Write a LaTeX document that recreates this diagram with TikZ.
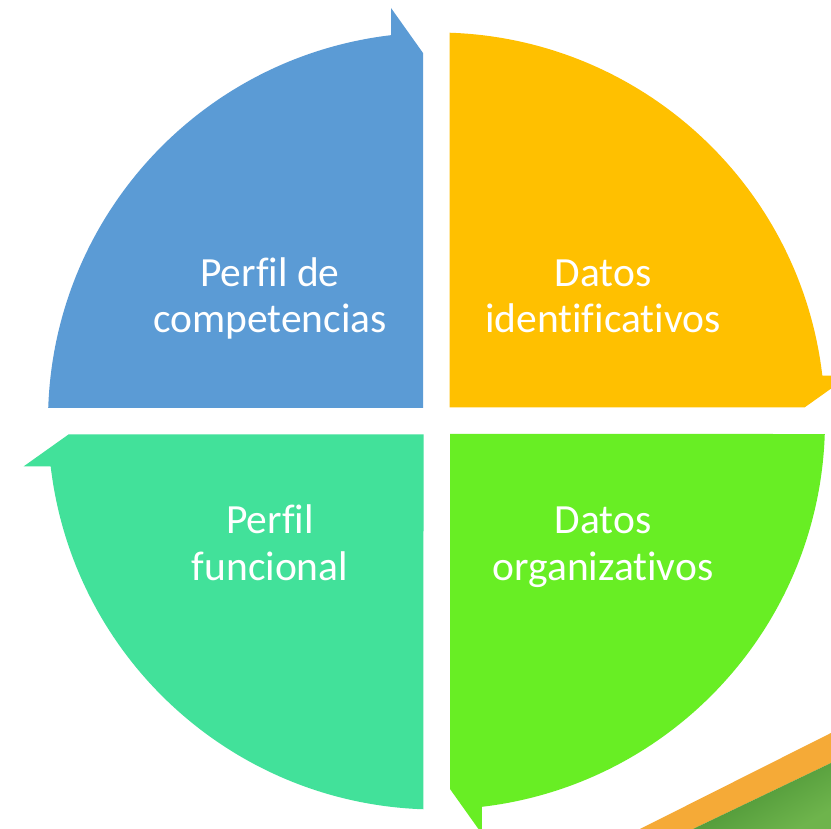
\documentclass[tikz,border=0pt]{standalone}
\usepackage{fontspec}
\setmainfont{Carlito}[Ligatures=NoCommon]
\definecolor{segblue}{RGB}{91,155,213}
\definecolor{segyellow}{RGB}{255,192,0}
\definecolor{seglime}{RGB}{104,238,36}
\definecolor{segteal}{RGB}{66,225,154}
\definecolor{bandorange}{RGB}{245,170,55}
\definecolor{banddark}{RGB}{66,140,48}
\definecolor{bandlight}{RGB}{110,180,76}
\begin{document}
\begin{tikzpicture}[x=1pt,y=1pt,
  seglabel/.style={text=white, align=center, inner sep=0pt,
    font=\fontsize{41.5}{46.5}\selectfont}]
\useasboundingbox (0,0) rectangle (831,829);
\fill[white] (0,0) rectangle (831,829);
\clip (0,0) rectangle (831,829);

% decorative corner band
\fill[bandorange] (640,0) -- (831,96) -- (831,66) -- (693,0) -- cycle;
\shade[top color=banddark, bottom color=bandlight, shading angle=30]
  (693,0) -- (831,66) -- (831,0) -- cycle;

% one quarter segment with its arrowhead, drawn in the frame of the centre
\newcommand{\segpiece}[2]{%
  \begin{scope}[shift={(436.5,408)}, rotate=#1]
    \fill[#2] (-13.5,13) -- (178.08:388.5)
      arc[start angle=178.08, end angle=96.7, radius=388.5]
      -- (-45.5,413) -- (-13.5,368) -- cycle;
  \end{scope}}

\segpiece{0}{segblue}
\segpiece{-90}{segyellow}
\segpiece{-180}{seglime}
\segpiece{-270}{segteal}

\node[seglabel] (comp) at (270,529) {Perfil de\strut\\competencias\strut};
\node[seglabel] (ident) at (603,529) {Datos\strut\\identificativos\strut};
\node[seglabel] (func) at (270,281.5) {Perfil\strut\\funcional\strut};
\node[seglabel] (org) at (603,281.5) {Datos\strut\\organizativos\strut};
\end{tikzpicture}
\end{document}
